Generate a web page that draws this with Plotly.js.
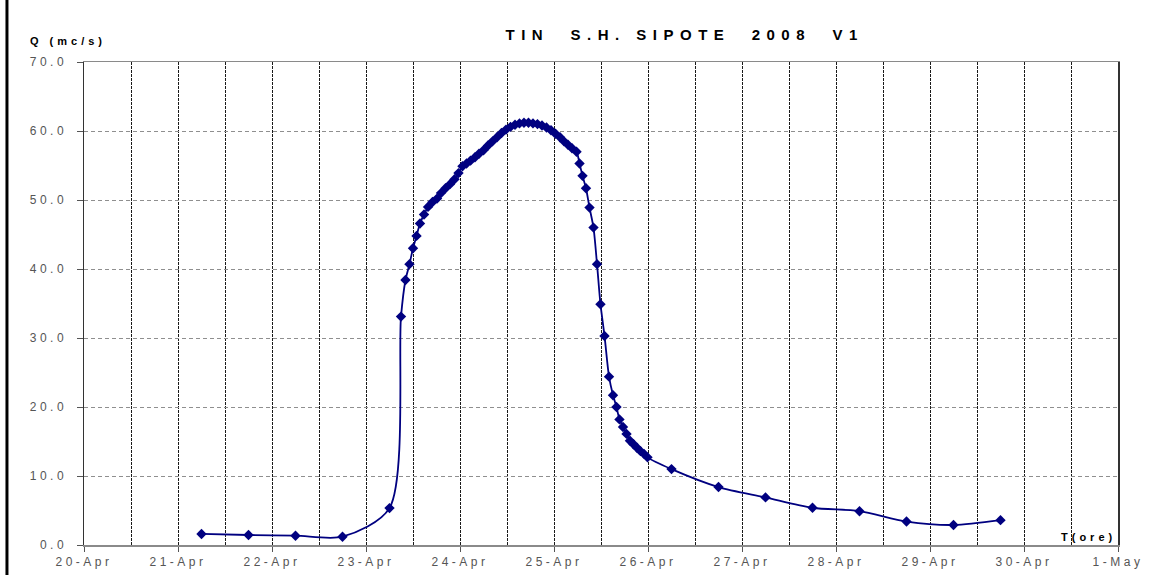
<!DOCTYPE html>
<html>
<head>
<meta charset="utf-8">
<script src="https://cdn.plot.ly/plotly-3.0.1.min.js"></script>
<style>
  html, body { margin: 0; padding: 0; background: #fff; }
  #chart { width: 1156px; height: 575px; }
  #chart .xtick text, #chart .ytick text { letter-spacing: 3.5px; }
  #chart .annotation[data-index="0"] text { letter-spacing: 6.5px; }
  #chart .annotation[data-index="1"] text,
  #chart .annotation[data-index="2"] text { letter-spacing: 4px; }
</style>
</head>
<body>
<div id="chart"></div>
<script>
// Time of each reading (2008)
const times = [
  "2008-04-21 06:00", "2008-04-21 18:00", "2008-04-22 06:00", "2008-04-22 18:00",
  "2008-04-23 06:00", "2008-04-23 08:56", "2008-04-23 10:05", "2008-04-23 11:06",
  "2008-04-23 12:00", "2008-04-23 12:54", "2008-04-23 13:47", "2008-04-23 14:49",
  "2008-04-23 15:50", "2008-04-23 16:59", "2008-04-23 18:08", "2008-04-23 19:09",
  "2008-04-23 20:18", "2008-04-23 21:27", "2008-04-23 22:36", "2008-04-23 23:37",
  "2008-04-24 00:38", "2008-04-24 01:40", "2008-04-24 02:41", "2008-04-24 03:50",
  "2008-04-24 04:51", "2008-04-24 06:00", "2008-04-24 07:09", "2008-04-24 08:18",
  "2008-04-24 09:27", "2008-04-24 10:36", "2008-04-24 11:45", "2008-04-24 12:54",
  "2008-04-24 14:03", "2008-04-24 15:11", "2008-04-24 16:20", "2008-04-24 17:29",
  "2008-04-24 18:38", "2008-04-24 19:47", "2008-04-24 20:56", "2008-04-24 22:05",
  "2008-04-24 23:14", "2008-04-25 00:23", "2008-04-25 01:32", "2008-04-25 02:33",
  "2008-04-25 03:34", "2008-04-25 04:36", "2008-04-25 05:45", "2008-04-25 06:31",
  "2008-04-25 07:17", "2008-04-25 08:10", "2008-04-25 09:04", "2008-04-25 10:05",
  "2008-04-25 10:59", "2008-04-25 11:52", "2008-04-25 12:54", "2008-04-25 14:03",
  "2008-04-25 15:04", "2008-04-25 15:57", "2008-04-25 16:43", "2008-04-25 17:37",
  "2008-04-25 18:31", "2008-04-25 19:24", "2008-04-25 20:18", "2008-04-25 21:11",
  "2008-04-25 22:05", "2008-04-25 22:59", "2008-04-25 23:52", "2008-04-26 06:00",
  "2008-04-26 18:00", "2008-04-27 06:00", "2008-04-27 18:00", "2008-04-28 06:00",
  "2008-04-28 18:00", "2008-04-29 06:00", "2008-04-29 18:00"
];

// Discharge Q (mc/s)
const discharge = [
  1.6, 1.45, 1.35, 1.2,
  5.35, 33.1, 38.4, 40.7,
  43.0, 44.8, 46.6, 47.9,
  49.0, 49.7, 50.2, 51.0,
  51.7, 52.3, 53.0, 53.9,
  54.9, 55.3, 55.7, 56.2,
  56.7, 57.2, 57.9, 58.5,
  59.1, 59.7, 60.2, 60.6,
  60.9, 61.1, 61.2, 61.2,
  61.1, 61.0, 60.8, 60.5,
  60.1, 59.6, 59.1, 58.5,
  58.0, 57.5, 57.0, 55.3,
  53.5, 51.7, 48.9, 46.0,
  40.7, 34.9, 30.3, 24.4,
  21.7, 20.0, 18.2, 17.1,
  16.1, 15.1, 14.6, 14.1,
  13.6, 13.2, 12.7, 11.0,
  8.4, 6.9, 5.4, 4.9,
  3.4, 2.9, 3.6
];

const chartTitle = "TIN  S.H. SIPOTE  2008  V1";
const yLabel = "Q (mc/s)";
const xLabel = "T(ore)";
const xStart = "2008-04-20 00:00";
const xEnd = "2008-05-01 00:00";
const yMin = 0, yMax = 70;

const navy = "#000080";
const fam = "Liberation Sans, Arial, sans-serif";

const trace = {
  x: times,
  y: discharge,
  type: "scatter",
  mode: "lines+markers",
  line: { color: navy, width: 1.8, shape: "spline", smoothing: 0.8 },
  marker: { symbol: "diamond", size: 8, color: navy },
  hoverinfo: "x+y",
  showlegend: false
};

const tickFont = { family: fam, size: 12, color: "#555" };

const layout = {
  width: 1156,
  height: 575,
  margin: { l: 84, r: 38, t: 62, b: 30, pad: 0 },
  paper_bgcolor: "#ffffff",
  plot_bgcolor: "#ffffff",
  font: { family: fam, color: "#000" },
  xaxis: {
    type: "date",
    range: [xStart, xEnd],
    tick0: xStart,
    dtick: 86400000,
    tickformat: "%-d-%b",
    tickfont: tickFont,
    ticks: "outside",
    ticklen: 5,
    tickcolor: "#555",
    showgrid: true,
    gridcolor: "#1a1a1a",
    griddash: "3px,1px",
    gridwidth: 1,
    minor: {
      dtick: 43200000,
      tick0: xStart,
      showgrid: true,
      gridcolor: "#1a1a1a",
      griddash: "3px,1px",
      gridwidth: 1,
      ticks: ""
    },
    showline: true,
    linecolor: "#8a8a8a",
    linewidth: 1.5,
    mirror: true,
    zeroline: false,
    fixedrange: true
  },
  yaxis: {
    range: [yMin, yMax],
    dtick: 10,
    tickformat: ".1f",
    tickfont: tickFont,
    ticks: "outside",
    ticklen: 6,
    tickcolor: "#555",
    ticklabelstandoff: 7,
    showgrid: true,
    gridcolor: "#8f8f8f",
    griddash: "4px,3px",
    gridwidth: 1,
    showline: true,
    linecolor: "#333",
    linewidth: 1.5,
    mirror: true,
    zeroline: false,
    fixedrange: true
  },
  annotations: [
    {
      text: "<b>" + chartTitle + "</b>",
      xref: "paper", yref: "paper",
      x: 0.581, y: 1.056,
      xanchor: "center", yanchor: "middle",
      showarrow: false,
      font: { family: fam, size: 15, color: "#000" }
    },
    {
      text: "<b>" + yLabel + "</b>",
      xref: "paper", yref: "paper",
      x: -0.0155, y: 1.043,
      xanchor: "center", yanchor: "middle",
      showarrow: false,
      font: { family: fam, size: 11, color: "#000" }
    },
    {
      text: "<b>" + xLabel + "</b>",
      xref: "paper", yref: "paper",
      x: 0.972, y: 0.017,
      xanchor: "center", yanchor: "middle",
      showarrow: false,
      font: { family: fam, size: 11, color: "#000" }
    }
  ],
  shapes: [
    {
      type: "line", xref: "paper", yref: "paper",
      x0: -0.0745, x1: -0.0745, y0: -0.07, y1: 1.14,
      line: { color: "#000", width: 3 }
    }
  ]
};

Plotly.newPlot("chart", [trace], layout, { displayModeBar: false, staticPlot: true });
</script>
</body>
</html>
